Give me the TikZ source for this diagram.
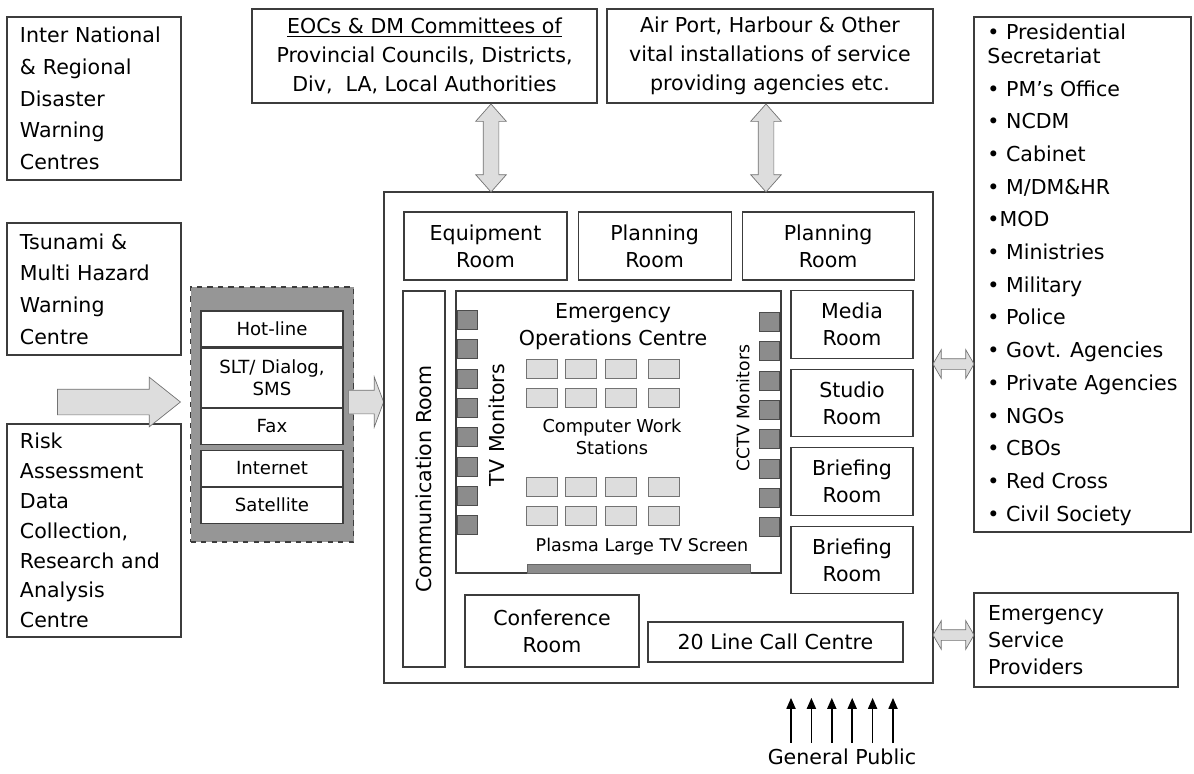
\documentclass[tikz,border=0pt]{standalone}
\usepackage{fontspec}
\setmainfont{DejaVu Sans}
\usepackage{xcolor}
\usepackage{tikz}
\usetikzlibrary{arrows.meta, positioning, shapes.arrows}
\definecolor{deskgrey}{RGB}{221,221,221}
\definecolor{panelgrey}{RGB}{150,150,150}
\definecolor{screengrey}{RGB}{140,140,140}
\definecolor{linegrey}{RGB}{60,60,60}

\begin{document}
\begin{tikzpicture}[
    x=0.2mm, y=-0.2mm,
    font=\fontsize{11.7}{18}\selectfont,
    box/.style={rectangle, draw=linegrey, line width=0.6pt, inner sep=0pt, align=center},
    textbox/.style={box, align=left, text width=29.6mm, minimum width=34.8mm},
    room/.style={box, minimum height=13.5mm, font=\fontsize{11.7}{15.5}\selectfont},
    cell/.style={box, fill=white, minimum width=28.4mm, minimum height=7.2mm, font=\fontsize{10.3}{12.5}\selectfont},
    monitor/.style={rectangle, draw=black!70, fill=screengrey, minimum width=4mm, minimum height=3.8mm, inner sep=0pt},
    desk/.style={rectangle, draw=black!55, fill=deskgrey, minimum width=6.2mm, minimum height=3.8mm, inner sep=0pt},
    fatarrow/.style={single arrow, draw=black!55, fill=deskgrey, inner xsep=0pt, anchor=tip},
    linkarrow/.style={double arrow, draw=black!55, fill=deskgrey, inner xsep=0pt},
    pubarrow/.style={-{Triangle[length=2.2mm, width=1.8mm]}, line width=1pt}
]
\useasboundingbox (0,0) rectangle (1194,773);

\node[textbox, minimum height=32.6mm] (intl) at (94,98.5) {Inter National\\\& Regional\\Disaster\\Warning\\Centres};
\node[textbox, minimum height=26.4mm] (tsunami) at (94,289) {Tsunami \&\\Multi Hazard\\Warning\\Centre};
\node[textbox, minimum height=42.6mm, font=\fontsize{11.7}{17}\selectfont] (risk) at (94,530.5) {Risk\\Assessment\\Data\\Collection,\\Research and\\Analysis\\Centre};
\node[fatarrow, single arrow head extend=2.4mm, single arrow tip angle=77, inner ysep=2.5mm, minimum height=24.6mm] (feedarrow) at (181,402) {};

\node[box, dashed, fill=panelgrey, minimum width=32.6mm, minimum height=51mm] (links) at (272,414.5) {};
\node[cell] (hotline) at (272,329) {Hot-line};
\node[cell, minimum height=11.8mm, below=0pt of hotline] (sms) {SLT/ Dialog,\\SMS};
\node[cell, below=0pt of sms] (fax) {Fax};
\node[cell, below=1mm of fax] (internet) {Internet};
\node[cell, below=0pt of internet] (satellite) {Satellite};
\node[fatarrow, single arrow head extend=2.6mm, single arrow tip angle=139, inner ysep=2.3mm, minimum height=7mm] (intoarrow) at (384,402) {};

\node[box, minimum width=109.8mm, minimum height=98.2mm] (eoc) at (658.5,437.5) {};
\node[room, minimum width=32.6mm, minimum height=13.6mm] (equip) at (485.5,246) {Equipment\\Room};
\node[room, minimum width=30.6mm, minimum height=13.6mm, right=2mm of equip] (plan1) {Planning\\Room};
\node[room, minimum width=34.4mm, minimum height=13.6mm, right=2mm of plan1] (plan2) {Planning\\Room};
\node[box, rotate=90, minimum width=75.2mm, minimum height=8.4mm] (comm) at (424,479) {Communication Room};

\node[box, minimum width=65mm, minimum height=56.4mm] (floor) at (618.5,432) {};
\node[align=center, font=\fontsize{11.7}{15.5}\selectfont] (floortitle) at (613,326.5) {Emergency\\Operations Centre};
\foreach \i in {0,...,7} {
  \node[monitor] (tv\i) at (467,320+29.3*\i) {};
  \node[monitor] (cctv\i) at (769.5,322+29.3*\i) {};
}
\foreach \x [count=\c] in {541.5,580.5,620.5,663.5}
  \foreach \y [count=\r] in {368.5,398,486.5,515.5}
    \node[desk] (desk\c\r) at (\x,\y) {};
\node[rotate=90] (tvlabel) at (497,425) {TV Monitors};
\node[rotate=90, font=\fontsize{9.8}{12}\selectfont] (cctvlabel) at (743,408) {CCTV Monitors};
\node[align=center, font=\fontsize{10.1}{12.5}\selectfont] (desklabel) at (612,437) {Computer Work\\Stations};
\node[font=\fontsize{10}{12}\selectfont] (screenlabel) at (642,547) {Plasma Large TV Screen};
\node[rectangle, draw=black!60, fill=screengrey, minimum width=44.6mm, minimum height=1.8mm, inner sep=0pt] (screen) at (638.5,568.5) {};

\node[room, minimum width=24.4mm] (media) at (852,324.5) {Media\\Room};
\node[room, minimum width=24.4mm, below=2mm of media] (studio) {Studio\\Room};
\node[room, minimum width=24.4mm, below=2mm of studio] (brief1) {Briefing\\Room};
\node[room, minimum width=24.4mm, below=2mm of brief1] (brief2) {Briefing\\Room};
\node[room, minimum width=34.8mm, minimum height=14.4mm] (conf) at (552,631) {Conference\\Room};
\node[box, minimum width=51mm, minimum height=8mm] (calls) at (775.5,642) {20 Line Call Centre};

\node[box, minimum width=69mm, minimum height=18.8mm, font=\fontsize{11.7}{16.5}\selectfont] (district) at (424.5,56) {\underline{EOCs \& DM Committees of}\\Provincial Councils, Districts,\\Div,~ LA, Local Authorities};
\node[box, minimum width=65.2mm, minimum height=18.8mm, font=\fontsize{11.7}{16.5}\selectfont] (vital) at (770,56) {Air Port, Harbour \& Other\\vital installations of service\\providing agencies etc.};
\node[linkarrow, rotate=90, double arrow head extend=1.5mm, double arrow tip angle=83, inner ysep=1.5mm, minimum height=17.6mm] (link1) at (491,148) {};
\node[linkarrow, rotate=90, double arrow head extend=1.5mm, double arrow tip angle=83, inner ysep=1.5mm, minimum height=17.6mm] (link2) at (766,148) {};

\node[box, align=left, minimum width=43.4mm, minimum height=103mm, font=\fontsize{11.7}{18.6}\selectfont] (partners) at (1082.5,274.5) {• Presidential\\[-1.7mm]Secretariat\\• PM’s Office\\• NCDM\\• Cabinet\\• M/DM\&HR\\•MOD\\• Ministries\\• Military\\• Police\\• Govt. Agencies\\• Private Agencies\\• NGOs\\• CBOs\\• Red Cross\\• Civil Society};
\node[box, align=left, text width=35.2mm, minimum width=40.8mm, minimum height=18.8mm, font=\fontsize{11.7}{15.5}\selectfont] (services) at (1076,640) {Emergency\\Service\\Providers};
\node[linkarrow, double arrow head extend=1.8mm, double arrow tip angle=120, inner ysep=1mm, minimum height=8.2mm] (side1) at (953.5,364) {};
\node[linkarrow, double arrow head extend=1.8mm, double arrow tip angle=120, inner ysep=1mm, minimum height=8.2mm] (side2) at (953.5,635) {};

\node (public) at (842,757) {General Public};
\foreach \dx in {-51,-30.6,-10.2,10.2,30.6,51}
  \draw[pubarrow] (public.north) ++(\dx,0) -- ++(0,-45);
\end{tikzpicture}
\end{document}
